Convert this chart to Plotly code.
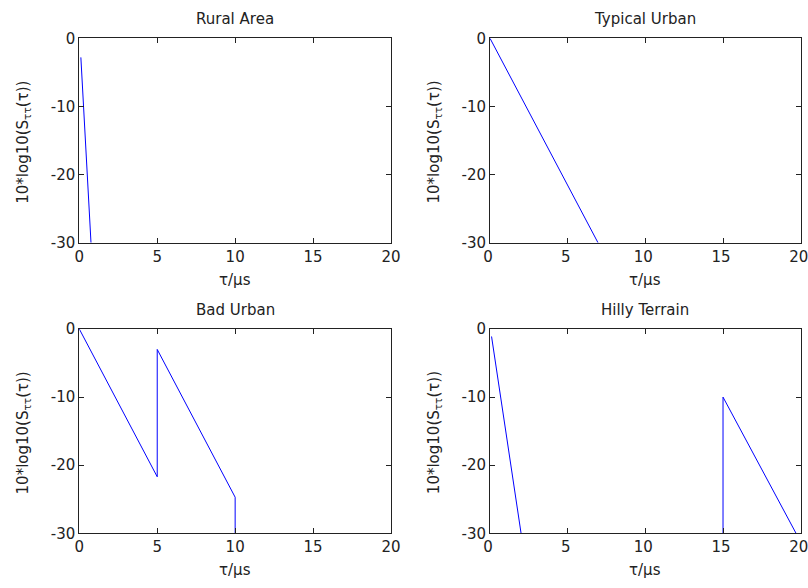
import plotly.graph_objects as go

# COST 207 delay power spectral density profiles (dB vs delay in microseconds)
rural_tau = [0.1, 0.75]
rural_db = [-2.8, -30.0]

urban_tau = [0.0, 6.95]
urban_db = [0.0, -30.0]

bad_tau = [0.0, 5.0, 5.0, 10.0, 10.0]
bad_db = [0.0, -21.7, -3.0, -24.7, -30.0]

hilly_tau = [0.1, 2.0, None, 15.0, 15.0, 19.7]
hilly_db = [-1.1, -30.0, None, -30.0, -10.0, -30.0]

titles = ["Rural Area", "Typical Urban", "Bad Urban", "Hilly Terrain"]
x_ticks = [0, 5, 10, 15, 20]
y_ticks = [-30, -20, -10, 0]

W, H = 808, 588
FONT = "DejaVu Sans, Liberation Sans, sans-serif"
FS = 15
INK = "#222222"

# axes boxes in pixels: (left, top, right, bottom)
boxes = [
    (79.3, 38.3, 391.0, 242.7),
    (490.0, 38.3, 800.7, 242.7),
    (79.3, 329.0, 391.0, 533.3),
    (490.0, 329.0, 800.7, 533.3),
]

series = [(rural_tau, rural_db), (urban_tau, urban_db),
          (bad_tau, bad_db), (hilly_tau, hilly_db)]

fig = go.Figure()
layout = dict(
    width=W, height=H,
    margin=dict(l=0, r=0, t=0, b=0, autoexpand=False),
    paper_bgcolor="white", plot_bgcolor="white",
    showlegend=False,
    font=dict(family=FONT, size=FS, color=INK),
)
annotations = []

for i, ((x0, y0, x1, y1), (tx, ty), ttl) in enumerate(zip(boxes, series, titles)):
    n = "" if i == 0 else str(i + 1)
    fig.add_trace(go.Scatter(
        x=tx, y=ty, mode="lines",
        line=dict(color="#0000ff", width=1),
        xaxis="x" + n, yaxis="y" + n,
        connectgaps=False, hoverinfo="skip",
    ))
    common = dict(
        ticks="inside", ticklen=5, tickwidth=1, tickcolor=INK,
        showline=True, linecolor=INK, linewidth=1, mirror="ticks",
        showgrid=False, zeroline=False, automargin=False,
        tickfont=dict(family=FONT, size=FS, color=INK),
        ticklabeloverflow="allow", fixedrange=True,
    )
    layout["xaxis" + n] = dict(
        domain=[x0 / W, x1 / W], range=[0, 20],
        tickvals=x_ticks, ticktext=[str(v) for v in x_ticks],
        anchor="y" + n, ticklabelshift=-2 if i % 2 else 0, **common,
    )
    layout["yaxis" + n] = dict(
        domain=[1 - y1 / H, 1 - y0 / H], range=[-30, 0],
        tickvals=y_ticks, ticktext=[str(v) for v in y_ticks],
        anchor="x" + n, **common,
    )

    cx = (x0 + x1) / 2
    cy = (y0 + y1) / 2
    # subplot title
    annotations.append(dict(
        text=ttl, x=cx / W, y=1 - (y0 - 19.5) / H,
        xref="paper", yref="paper", showarrow=False,
        xanchor="center", yanchor="middle",
        font=dict(family=FONT, size=FS, color=INK),
    ))
    # x axis label
    annotations.append(dict(
        text="τ/μs", x=cx / W, y=1 - (y1 + 37) / H,
        xref="paper", yref="paper", showarrow=False,
        xanchor="center", yanchor="middle",
        font=dict(family=FONT, size=FS, color=INK),
    ))
    # y axis label
    annotations.append(dict(
        text="10*log10(S<sub>ττ</sub>(τ))", x=(x0 - 56) / W, y=1 - (cy + 2) / H,
        xref="paper", yref="paper", showarrow=False, textangle=-90,
        xanchor="center", yanchor="middle",
        font=dict(family=FONT, size=FS, color=INK),
    ))

layout["annotations"] = annotations
fig.update_layout(**layout)
fig.write_html("out.html", config={"displayModeBar": False})
